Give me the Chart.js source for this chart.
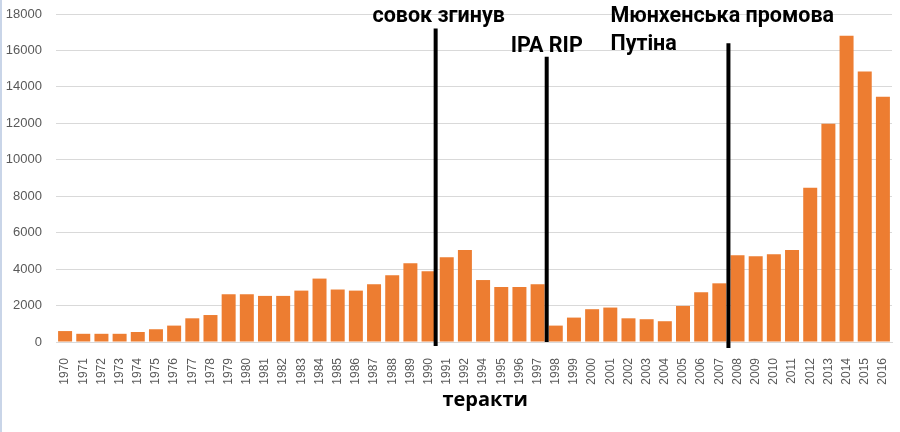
<!DOCTYPE html>
<html>
<head>
<meta charset="utf-8">
<script src="https://cdn.jsdelivr.net/npm/chart.js@4.4.1/dist/chart.umd.min.js"></script>
<style>
  html, body { margin: 0; padding: 0; background: #fff; }
  #wrap { width: 900px; height: 432px; position: relative; }
</style>
</head>
<body>
<div id="wrap"><canvas id="attacksChart"></canvas></div>
<script>
// Роки (1993 у даних немає)
const years = ['1970','1971','1972','1973','1974','1975','1976','1977','1978','1979',
    '1980','1981','1982','1983','1984','1985','1986','1987','1988','1989',
    '1990','1991','1992','1994','1995','1996','1997','1998','1999','2000',
    '2001','2002','2003','2004','2005','2006','2007','2008','2009','2010',
    '2011','2012','2013','2014','2015','2016'];

const attacks = [600, 450, 450, 450, 550, 700, 900, 1300, 1480, 2620,
    2620, 2530, 2530, 2820, 3480, 2880, 2820, 3170, 3660, 4320,
    3880, 4650, 5050, 3400, 3020, 3020, 3170, 900, 1340, 1800,
    1890, 1300, 1250, 1140, 1980, 2730, 3220, 4760, 4700, 4810,
    5050, 8460, 11980, 16810, 14840, 13460];

const yTicks = [0, 2000, 4000, 6000, 8000, 10000, 12000, 14000, 16000, 18000];

// Вертикальні мітки: між якими роками, де верх, де низ (в одиницях осі y)
const markerAfter = ['1990', '1997', '2007'];
const markerTop = [17200, 15650, 16400];
const markerBottom = [-220, 0, -330];

const labelTexts = [['совок згинув'], ['IPA RIP'], ['Мюнхенська промова', 'Путіна']];
const labelBaseline = [17560, 15920, 17560];

const barColor = '#ED7D31';

const markersPlugin = {
    id: 'markers',
    beforeDraw(chart) {
        const ctx = chart.ctx;
        ctx.save();
        ctx.fillStyle = '#c9d5e8';
        ctx.fillRect(0, 0, 2, chart.height);
        ctx.restore();
    },
    afterDatasetsDraw(chart) {
        const ctx = chart.ctx;
        const x = chart.scales.x;
        const y = chart.scales.y;
        const lineXs = [];
        ctx.save();
        markerAfter.forEach((yr, i) => {
            const idx = years.indexOf(yr);
            // перша лінія стоїть майже впритул до стовпця 1990
            const px = (x.getPixelForValue(idx) + x.getPixelForValue(idx + 1)) / 2 - (i === 0 ? 2 : 0);
            lineXs.push(px);
            ctx.strokeStyle = '#000';
            ctx.lineWidth = 4;
            ctx.beginPath();
            ctx.moveTo(px, y.getPixelForValue(markerTop[i]));
            ctx.lineTo(px, y.getPixelForValue(markerBottom[i]));
            ctx.stroke();
        });

        ctx.fillStyle = '#000';
        ctx.font = 'bold 21.5px Roboto';
        ctx.textBaseline = 'alphabetic';
        labelTexts.forEach((lines, i) => {
            const by = y.getPixelForValue(labelBaseline[i]);
            if (i < 2) {
                ctx.textAlign = 'center';
                lines.forEach((t, k) => ctx.fillText(t, lineXs[i] + 3 - i * 3, by + k * 28));
            } else {
                ctx.textAlign = 'left';
                lines.forEach((t, k) => ctx.fillText(t, lineXs[i] - 118, by + k * 28));
            }
        });

        // підпис під віссю між першою та другою лініями
        ctx.font = 'bold 20px "Open Sans"';
        ctx.textAlign = 'center';
        ctx.fillText('теракти', (lineXs[0] + lineXs[1]) / 2 - 6, y.bottom + 64);
        ctx.restore();
    }
};

new Chart(document.getElementById('attacksChart'), {
    type: 'bar',
    data: {
        labels: years,
        datasets: [{
            data: attacks,
            backgroundColor: barColor,
            borderWidth: 0,
            barPercentage: 0.77,
            categoryPercentage: 1.0
        }]
    },
    options: {
        responsive: true,
        maintainAspectRatio: false,
        animation: false,
        layout: { padding: { top: 14, right: 8, bottom: 0, left: 0 } },
        plugins: { legend: { display: false }, tooltip: { enabled: false } },
        scales: {
            x: {
                grid: { display: false },
                border: { display: true, color: '#d9d9d9' },
                ticks: {
                    autoSkip: false,
                    maxRotation: 90,
                    minRotation: 90,
                    padding: 8,
                    color: '#595959',
                    font: { family: 'Liberation Sans', size: 12 }
                },
                afterFit: (scale) => {
                    scale.height = 90;
                    scale.paddingLeft = 0;
                    scale.paddingRight = 0;
                }
            },
            y: {
                min: 0,
                max: 18000,
                afterBuildTicks: (scale) => { scale.ticks = yTicks.map(v => ({ value: v })); },
                grid: { color: '#d9d9d9', drawTicks: false },
                border: { display: false },
                ticks: {
                    padding: 14,
                    color: '#595959',
                    font: { family: 'Liberation Sans', size: 13 },
                    callback: (v) => String(v)
                },
                afterFit: (scale) => {
                    scale.width = 56;
                    scale.paddingTop = 0;
                    scale.paddingBottom = 0;
                }
            }
        }
    },
    plugins: [markersPlugin]
});
</script>
</body>
</html>
